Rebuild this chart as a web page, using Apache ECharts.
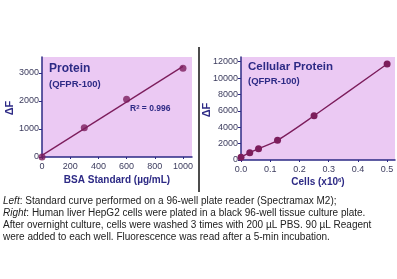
<!DOCTYPE html>
<html>
<head>
<meta charset="utf-8">
<script src="https://cdn.jsdelivr.net/npm/echarts@6/dist/echarts.min.js"></script>
<style>
  html, body { margin: 0; padding: 0; background: #fff; }
  #chart { width: 397px; height: 279px; }
</style>
</head>
<body>
<div id="chart"></div>
<script>
// left panel: BSA standard curve
const bsaConc = [0, 300, 600, 1000]
const bsaDeltaF = [0, 1040, 2060, 3170]
// right panel: HepG2 cells
const cellCount = [0, 0.03, 0.06, 0.125, 0.25, 0.5]
const cellDeltaF = [330, 890, 1380, 2400, 5400, 11720]

const navy = '#2d2a85'
const labelColor = '#3c3c5e'
const plum = '#7c1d5c'
const bg = '#ebc9f3'
const font = 'Liberation Sans, Arial, sans-serif'

// least squares line for the standard curve
function fit (xs, ys) {
  let n = xs.length
  let mx = xs.reduce((a, b) => a + b, 0) / n
  let my = ys.reduce((a, b) => a + b, 0) / n
  let sxy = 0
  let sxx = 0
  for (let i = 0; i < n; i++) {
    sxy += (xs[i] - mx) * (ys[i] - my)
    sxx += (xs[i] - mx) * (xs[i] - mx)
  }
  let k = sxy / sxx
  let b = my - k * mx
  return [[xs[0], k * xs[0] + b], [xs[n - 1], k * xs[n - 1] + b]]
}

function axisX (idx, max, interval, name, gap, fmt) {
  return {
    type: 'value',
    gridIndex: idx,
    min: 0,
    max: max,
    interval: interval,
    name: name,
    nameLocation: 'middle',
    nameGap: gap,
    nameTextStyle: {
      color: navy, fontWeight: 'bold', fontSize: 10, fontFamily: font,
      rich: { s: { fontSize: 6, fontWeight: 'bold', color: navy, fontFamily: font, verticalAlign: 'top', padding: [0, 0, 5, 0] } }
    },
    splitLine: { show: false },
    axisLine: { lineStyle: { color: navy, width: 1.5 } },
    axisTick: { show: true, length: 2, lineStyle: { color: navy } },
    axisLabel: {
      color: labelColor, fontSize: 9, fontFamily: font, margin: 5,
      showMaxLabel: false, formatter: fmt
    }
  }
}

function axisY (idx, max, interval) {
  return {
    type: 'value',
    gridIndex: idx,
    min: 0,
    max: max,
    interval: interval,
    splitLine: { show: false },
    axisLine: { show: true, lineStyle: { color: navy, width: 1.5 } },
    axisTick: { show: true, length: 3, lineStyle: { color: navy } },
    axisLabel: {
      color: labelColor, fontSize: 9, fontFamily: font, margin: 3, showMaxLabel: false,
      formatter: v => String(v)
    }
  }
}

const caption = [
  '{i|Left}: Standard curve performed on a 96-well plate reader (Spectramax M2);',
  '{i|Right}: Human liver HepG2 cells were plated in a black 96-well tissue culture plate.',
  'After overnight culture, cells were washed 3 times with 200 \u00b5L PBS. 90 \u00b5L Reagent',
  'were added to each well. Fluorescence was read after a 5-min incubation.'
].join('\n')

const chart = echarts.init(document.getElementById('chart'))
const option = {
  animation: false,
  backgroundColor: '#fff',
  grid: [
    { left: 42, top: 57, width: 150, height: 100, show: true, backgroundColor: bg, borderWidth: 0 },
    { left: 241, top: 57, width: 154, height: 103, show: true, backgroundColor: bg, borderWidth: 0 }
  ],
  xAxis: [
    axisX(0, 1064, 200, 'BSA Standard (\u00b5g/mL)', 18, v => String(v)),
    axisX(1, 0.527, 0.1, 'Cells (x10{s|6})', 17, v => v.toFixed(1))
  ],
  yAxis: [
    axisY(0, 3570, 1000),
    axisY(1, 12570, 2000)
  ],
  series: [
    {
      type: 'line',
      xAxisIndex: 0,
      yAxisIndex: 0,
      data: fit(bsaConc, bsaDeltaF),
      symbol: 'none',
      lineStyle: { color: plum, width: 1.3 },
      z: 2
    },
    {
      type: 'scatter',
      xAxisIndex: 0,
      yAxisIndex: 0,
      data: bsaConc.map((x, i) => [x, bsaDeltaF[i]]),
      symbolSize: 7,
      itemStyle: { color: plum },
      z: 3
    },
    {
      type: 'line',
      xAxisIndex: 1,
      yAxisIndex: 1,
      data: cellCount.map((x, i) => [x, cellDeltaF[i]]),
      smooth: 0.3,
      symbol: 'circle',
      symbolSize: 7,
      itemStyle: { color: plum },
      lineStyle: { color: plum, width: 1.3 }
    }
  ],
  graphic: [
    { type: 'text', left: 49, top: 63, style: { text: 'Protein', fill: navy, font: 'bold 12px ' + font } },
    { type: 'text', left: 49, top: 79, style: { text: '(QFPR-100)', fill: navy, font: 'bold 9.5px ' + font } },
    {
      type: 'text', left: 130, top: 104,
      style: {
        text: 'R{s|2} = 0.996',
        fill: navy, font: 'bold 8.5px ' + font,
        rich: { s: { fontSize: 6, fontWeight: 'bold', fill: navy, verticalAlign: 'top', padding: [0, 0, 4, 0] } }
      }
    },
    { type: 'text', left: 248, top: 61, style: { text: 'Cellular Protein', fill: navy, font: 'bold 11.5px ' + font } },
    { type: 'text', left: 248, top: 76, style: { text: '(QFPR-100)', fill: navy, font: 'bold 9.5px ' + font } },
    {
      type: 'text', x: 10, y: 108, rotation: Math.PI / 2,
      style: { text: '\u0394F', fill: navy, font: 'bold 11px ' + font, align: 'center', verticalAlign: 'middle' }
    },
    {
      type: 'text', x: 207, y: 110, rotation: Math.PI / 2,
      style: { text: '\u0394F', fill: navy, font: 'bold 11px ' + font, align: 'center', verticalAlign: 'middle' }
    },
    { type: 'line', shape: { x1: 199, y1: 47, x2: 199, y2: 192 }, style: { stroke: '#111', lineWidth: 1.5 } },
    {
      type: 'text', left: 3, top: 195,
      style: {
        text: caption,
        fill: '#222',
        font: '10px ' + font,
        lineHeight: 12,
        rich: { i: { fontStyle: 'italic', fontSize: 10, fill: '#222', fontFamily: font } }
      }
    }
  ]
}
chart.setOption(option)
</script>
</body>
</html>
